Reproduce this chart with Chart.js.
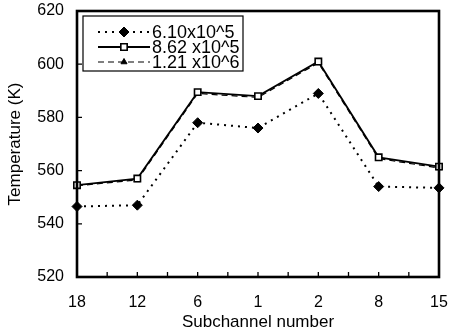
<!DOCTYPE html>
<html>
<head>
<meta charset="utf-8">
<script src="https://cdn.jsdelivr.net/npm/chart.js@4/dist/chart.umd.min.js"></script>
<style>
  html, body { margin: 0; padding: 0; background: #fff; }
  #wrap { width: 452px; height: 335px; }
</style>
</head>
<body>
<div id="wrap"><canvas id="c" width="452" height="335"></canvas></div>
<script>
// Subchannel order along the traverse
const subchannels = ['18', '12', '6', '1', '2', '8', '15'];
// Coolant temperature (K) for three Reynolds numbers
const tempRe610k = [546.5, 547, 578, 576, 589, 554, 553.5];
const tempRe862k = [554.5, 557, 589.5, 588, 601, 565, 561.5];
const tempRe121m = [554.3, 556.5, 589, 587.5, 600.5, 564.5, 561];
const seriesLabels = ['6.10x10^5', '8.62 x10^5', '1.21 x10^6'];
const yTickValues = [520, 540, 560, 580, 600, 620];

const FONT = '"Liberation Sans", Arial, Helvetica, sans-serif';

// Boxed legend inside the plot, each entry shows line + marker
const boxLegend = {
  id: 'boxLegend',
  afterDraw(chart) {
    const ctx = chart.ctx;
    const x0 = 83, y0 = 16, w = 160, h = 55;
    ctx.save();
    ctx.fillStyle = '#fff';
    ctx.fillRect(x0, y0, w, h);
    ctx.strokeStyle = '#000';
    ctx.lineWidth = 1.2;
    ctx.setLineDash([]);
    ctx.strokeRect(x0, y0, w, h);
    chart.data.datasets.forEach((ds, i) => {
      const cy = 32 + i * 15;
      ctx.strokeStyle = '#000';
      ctx.lineWidth = ds.borderWidth;
      ctx.setLineDash(ds.borderDash || []);
      ctx.beginPath();
      ctx.moveTo(98, cy);
      ctx.lineTo(150, cy);
      ctx.stroke();
      ctx.setLineDash([]);
      ctx.fillStyle = ds.pointBackgroundColor;
      ctx.strokeStyle = ds.pointBorderColor;
      ctx.lineWidth = ds.pointBorderWidth;
      Chart.helpers.drawPoint(ctx, {
        pointStyle: ds.pointStyle,
        radius: ds.pointRadius,
        rotation: 0,
        borderWidth: ds.pointBorderWidth
      }, 124, cy);
      ctx.fillStyle = '#000';
      ctx.font = '18px ' + FONT;
      ctx.textBaseline = 'middle';
      ctx.textAlign = 'left';
      ctx.fillText(ds.label, 152, cy + 1);
    });
    ctx.restore();
  }
};

// Heavy frame around the plot with short inward tick marks
const frameTicks = {
  id: 'frameTicks',
  afterDatasetsDraw(chart) {
    const { ctx, chartArea: a, scales } = chart;
    ctx.save();
    ctx.strokeStyle = '#000';
    ctx.setLineDash([]);
    ctx.lineWidth = 1.3;
    ctx.beginPath();
    // y ticks pointing right
    yTickValues.forEach(v => {
      const y = scales.y.getPixelForValue(v);
      ctx.moveTo(a.left, y);
      ctx.lineTo(a.left + 5, y);
    });
    // x ticks at categories and midpoints pointing up
    const n = subchannels.length;
    for (let i = 0; i < n; i++) {
      const x = scales.x.getPixelForValue(i);
      ctx.moveTo(x, a.bottom);
      ctx.lineTo(x, a.bottom - 5);
      if (i < n - 1) {
        const xm = (x + scales.x.getPixelForValue(i + 1)) / 2;
        ctx.moveTo(xm, a.bottom);
        ctx.lineTo(xm, a.bottom - 5);
      }
    }
    ctx.stroke();
    ctx.lineWidth = 2.6;
    ctx.strokeRect(a.left, a.top, a.right - a.left, a.bottom - a.top);
    ctx.restore();
  }
};

// Invisible tick marks give the label offset without inflating the plot padding
const hiddenTickGrid = len => ({
  display: true,
  drawOnChartArea: false,
  drawTicks: true,
  tickLength: len,
  color: 'rgba(0,0,0,0)'
});

new Chart(document.getElementById('c'), {
  type: 'line',
  data: {
    labels: subchannels,
    datasets: [
      {
        label: seriesLabels[0],
        data: tempRe610k,
        borderColor: '#000',
        borderWidth: 2,
        borderDash: [2, 5],
        pointStyle: 'rectRot',
        pointRadius: 5,
        pointBackgroundColor: '#000',
        pointBorderColor: '#000',
        pointBorderWidth: 1,
        order: 3
      },
      {
        label: seriesLabels[1],
        data: tempRe862k,
        borderColor: '#000',
        borderWidth: 1.8,
        borderDash: [],
        pointStyle: 'rect',
        pointRadius: 4.5,
        pointBackgroundColor: '#fff',
        pointBorderColor: '#000',
        pointBorderWidth: 1.6,
        order: 1
      },
      {
        label: seriesLabels[2],
        data: tempRe121m,
        borderColor: '#000',
        borderWidth: 1.2,
        borderDash: [6, 4],
        pointStyle: 'triangle',
        pointRadius: 3.5,
        pointBackgroundColor: '#000',
        pointBorderColor: '#000',
        pointBorderWidth: 1,
        order: 2
      }
    ]
  },
  options: {
    responsive: false,
    animation: false,
    events: [],
    layout: { autoPadding: false, padding: { top: 11, right: 13, left: 0, bottom: 0 } },
    plugins: {
      legend: { display: false },
      tooltip: { enabled: false }
    },
    scales: {
      x: {
        type: 'category',
        offset: false,
        grid: hiddenTickGrid(16),
        border: { display: false },
        ticks: {
          color: '#000',
          padding: 0,
          font: { family: FONT, size: 16 },
          maxRotation: 0,
          autoSkip: false
        },
        title: {
          display: true,
          text: 'Subchannel number',
          color: '#000',
          font: { family: FONT, size: 17 },
          padding: { top: 0, bottom: 2 }
        },
        afterFit(scale) { scale.height = 58; }
      },
      y: {
        min: 520,
        max: 620,
        grid: hiddenTickGrid(13),
        border: { display: false },
        afterBuildTicks(scale) {
          scale.ticks = yTickValues.map(v => ({ value: v }));
        },
        ticks: {
          color: '#000',
          padding: 0,
          font: { family: FONT, size: 16 }
        },
        title: {
          display: true,
          text: 'Temperature (K)',
          color: '#000',
          font: { family: FONT, size: 17 },
          padding: { top: 5, bottom: 0 }
        },
        afterFit(scale) { scale.width = 77; }
      }
    }
  },
  plugins: [frameTicks, boxLegend]
});
</script>
</body>
</html>
